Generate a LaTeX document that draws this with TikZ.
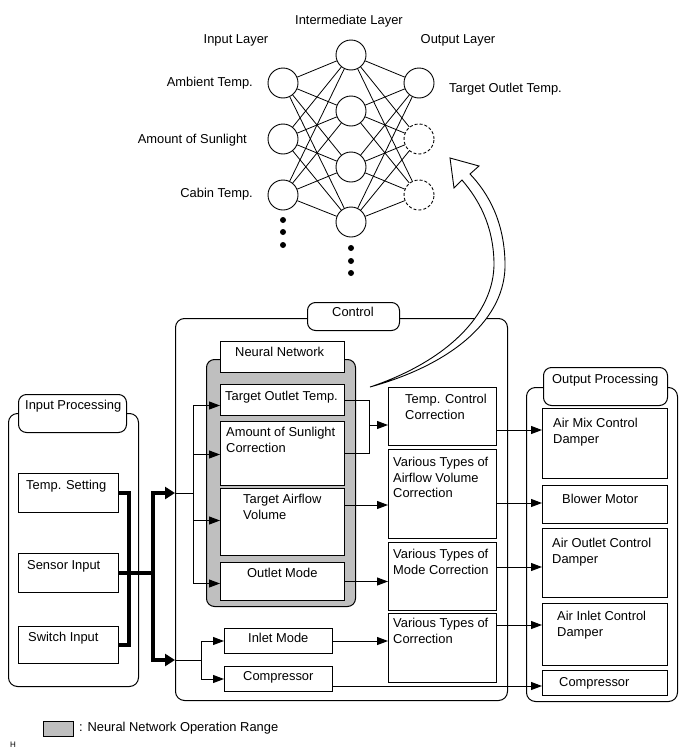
\documentclass[tikz,border=0pt]{standalone}
\usepackage{fontspec}
\setmainfont{Liberation Sans}
\usetikzlibrary{arrows.meta,calc}

\begin{document}
\begin{tikzpicture}
	[x=1pt,y=-1pt,
	 every node/.style={font=\fontsize{12.9}{15.5}\selectfont},
	 box/.style={draw,fill=white,line width=1pt,anchor=north west,inner sep=0pt},
	 frame/.style={draw,line width=1pt,rounded corners=9pt,anchor=north west,inner sep=0pt},
	 tag/.style={box,rounded corners=8pt},
	 txt/.style={anchor=north west,inner sep=0pt,align=left},
	 neuron/.style={circle,draw,fill=white,line width=0.9pt,minimum size=30pt,inner sep=0pt},
	 ghost/.style={neuron,dash pattern=on 3pt off 2pt},
	 synapse/.style={line width=0.8pt},
	 dot/.style={circle,fill,minimum size=6pt,inner sep=0pt},
	 wire/.style={line width=1pt},
	 link/.style={wire,-{Triangle[length=11pt,width=8pt]}},
	 bus/.style={line width=3.5pt},
	 busarrow/.style={bus,-{Triangle[length=10pt,width=12pt]}},
	 nnrange/.style={draw,fill=black!25,line width=1pt}]
	\useasboundingbox (0,0) rectangle (688,755);

	%
	% neural network
	%
	\node (inL) at (236,40) {Input Layer};
	\node (midL) at (349,21) {Intermediate Layer};
	\node (outL) at (458,40) {Output Layer};

	\node[neuron] (i1) at (283,83) {};
	\node[neuron] (i2) at (283,139) {};
	\node[neuron] (i3) at (283,195) {};
	\node[neuron] (h1) at (351,55) {};
	\node[neuron] (h2) at (351,111) {};
	\node[neuron] (h3) at (351,167) {};
	\node[neuron] (h4) at (351,222) {};
	\node[neuron] (o1) at (419,83) {};
	\node[ghost] (o2) at (419,139) {};
	\node[ghost] (o3) at (419,195) {};

	% weights
	\foreach \i in {1,2,3}
		\foreach \h in {1,...,4}
			\draw[synapse] (i\i) -- (h\h);
	\foreach \h in {1,...,4}
		\foreach \o in {1,2,3}
			\draw[synapse] (h\h) -- (o\o);

	% more neurons
	\foreach \y [count=\k] in {220,232,245}
		\node[dot] (di\k) at (283,\y) {};
	\foreach \y [count=\k] in {248,261,273}
		\node[dot] (dh\k) at (351,\y) {};

	\node[anchor=base east,inner sep=0pt] (ambT) at (253,86.5) {Ambient Temp.};
	\node[anchor=base east,inner sep=0pt] (sunT) at (247,143.5) {Amount of Sunlight};
	\node[anchor=base east,inner sep=0pt] (cabT) at (253,197.5) {Cabin Temp.};
	\node[anchor=base west,inner sep=0pt] (tgtT) at (449,92.5) {Target Outlet Temp.};

	%
	% input processing
	%
	\node[frame,minimum width=130pt,minimum height=273pt] (inp) at (8,413) {};
	\node[tag,minimum width=108pt,minimum height=38pt] (inpTag) at (18,394) {};
	\node[txt] (inpT) at (25,400) {Input Processing};
	\node[box,minimum width=100pt,minimum height=39pt] (tset) at (18,473) {};
	\node[txt] (tsetT) at (26,480) {Temp. Setting};
	\node[box,minimum width=100pt,minimum height=39pt] (sens) at (18,553) {};
	\node[txt] (sensT) at (27,560) {Sensor Input};
	\node[box,minimum width=100pt,minimum height=37pt] (swin) at (18,626) {};
	\node[txt] (swinT) at (28,632) {Switch Input};

	%
	% control
	%
	\node[frame,minimum width=332pt,minimum height=382pt] (ctrl) at (175,318) {};
	\node[tag,minimum width=92pt,minimum height=28pt] (ctrlTag) at (307,302) {};
	\node[txt] (ctrlT) at (332,307) {Control};

	\node[nnrange,rounded corners=8pt,anchor=north west,minimum width=149pt,minimum height=247pt] (nn) at (206,359) {};
	\node[box,minimum width=124pt,minimum height=31pt] (nnTag) at (220,341) {};
	\node[txt] (nnT) at (235,347) {Neural Network};
	\node[box,minimum width=124pt,minimum height=31pt] (tot) at (220,384) {};
	\node[txt] (totT) at (225,391) {Target Outlet Temp.};
	\node[box,minimum width=124pt,minimum height=64pt] (aos) at (220,421) {};
	\node[txt] (aosT) at (226,427) {Amount of Sunlight\\Correction};
	\node[box,minimum width=124pt,minimum height=67pt] (tav) at (220,488) {};
	\node[txt] (tavT) at (243,494) {Target Airflow\\Volume};
	\node[box,minimum width=124pt,minimum height=38pt] (omo) at (220,562) {};
	\node[txt] (omoT) at (247,568) {Outlet Mode};

	\node[box,minimum width=108pt,minimum height=25pt] (inl) at (224,628) {};
	\node[txt] (inlT) at (248,633) {Inlet Mode};
	\node[box,minimum width=108pt,minimum height=25pt] (cmp) at (224,666) {};
	\node[txt] (cmpT) at (243,671) {Compressor};

	\node[box,minimum width=108pt,minimum height=58pt] (tcc) at (388,387) {};
	\node[txt] (tccT) at (405,394) {Temp. Control\\Correction};
	\node[box,minimum width=108pt,minimum height=89pt] (vav) at (388,449) {};
	\node[txt] (vavT) at (393,457) {Various Types of\\Airflow Volume\\Correction};
	\node[box,minimum width=108pt,minimum height=68pt] (vmc) at (388,542) {};
	\node[txt] (vmcT) at (393,549) {Various Types of\\Mode Correction};
	\node[box,minimum width=108pt,minimum height=69pt] (vtc) at (388,613) {};
	\node[txt] (vtcT) at (393,618) {Various Types of\\Correction};

	%
	% output processing
	%
	\node[frame,minimum width=151pt,minimum height=314pt] (outp) at (526,387) {};
	\node[tag,minimum width=124pt,minimum height=38pt] (outpTag) at (543,367) {};
	\node[txt] (outpT) at (552,374) {Output Processing};
	\node[box,minimum width=125pt,minimum height=70pt] (amd) at (542,408) {};
	\node[txt] (amdT) at (553,418) {Air Mix Control\\Damper};
	\node[box,minimum width=125pt,minimum height=38pt] (blm) at (542,485) {};
	\node[txt] (blmT) at (562,494) {Blower Motor};
	\node[box,minimum width=125pt,minimum height=69pt] (aod) at (542,528) {};
	\node[txt] (aodT) at (552,538) {Air Outlet Control\\Damper};
	\node[box,minimum width=125pt,minimum height=62pt] (aid) at (542,603) {};
	\node[txt] (aidT) at (557,611) {Air Inlet Control\\Damper};
	\node[box,minimum width=125pt,minimum height=25pt] (ocmp) at (542,670) {};
	\node[txt] (ocmpT) at (559,677) {Compressor};

	%
	% connections
	%
	% inputs into control
	\coordinate (fanT) at (153,493);
	\coordinate (fanB) at (153,660);
	\draw[bus] (tset.east) -- ++(10,0) |- (swin.east);
	\draw[bus] (sens.east) -- (sens.east -| fanT);
	\draw[busarrow] (fanB) -- (fanT) -- (ctrl.west |- fanT);
	\draw[busarrow] (fanT) -- (fanB) -- (ctrl.west |- fanB);

	% into the neural network
	\coordinate (nnbus) at (193,493);
	\draw[wire] (ctrl.west |- nnbus) -- (nnbus);
	\foreach \b/\s in {tot/-5.5,aos/-1,tav/1.5,omo/-2}
		\draw[link] (nnbus) |- ([yshift=\s pt]\b.west);
	\coordinate (lobus) at (201,660);
	\draw[wire] (ctrl.west |- lobus) -- (lobus);
	\draw[link] (lobus) |- (inl.west);
	\draw[link] (lobus) |- (cmp.west);

	% to the corrections
	\coordinate (tcbus) at (369,425);
	\draw[wire] (tot.east) -| (tcbus);
	\draw[wire] (aos.east) -| (tcbus);
	\draw[link] (tcbus) -- (tcbus -| tcc.west);
	\coordinate (r1) at (0,505);
	\draw[link] (tav.east |- r1) -- (vav.west |- r1);
	\draw[link] (omo.east) -- (omo.east -| vmc.west);
	\draw[link] (inl.east) -- (inl.east -| vtc.west);

	% to the actuators
	\foreach \a/\b/\y in {tcc/amd/430,vav/blm/503,vmc/aod/567,vtc/aid/625,cmp/ocmp/686}
	{
		\coordinate (row) at (0,\y);
		\draw[link] (\a.east |- row) -- (\b.west |- row);
	}

	% back to the target outlet temp.
	\draw[fill=white,line width=0.9pt] (370,387) .. controls (450,365) and (507,320) .. (505,262)
		.. controls (504,222) and (489,194) .. (470,174) -- (479,166) -- (450,158) -- (454,188)
		-- (462,180) .. controls (479,200) and (493,225) .. (494,262)
		.. controls (495,315) and (445,362) .. (370,387) -- cycle;

	% legend
	\node[nnrange,anchor=north west,minimum width=30pt,minimum height=15pt,inner sep=0pt] (key) at (43,721) {};
	\node[anchor=west,inner sep=0pt] (keyT) at (79,728.5) {: Neural Network Operation Range};
	\node[font=\fontsize{8}{9}\selectfont,inner sep=0pt] (mark) at (13,745) {H};
\end{tikzpicture}
\end{document}
